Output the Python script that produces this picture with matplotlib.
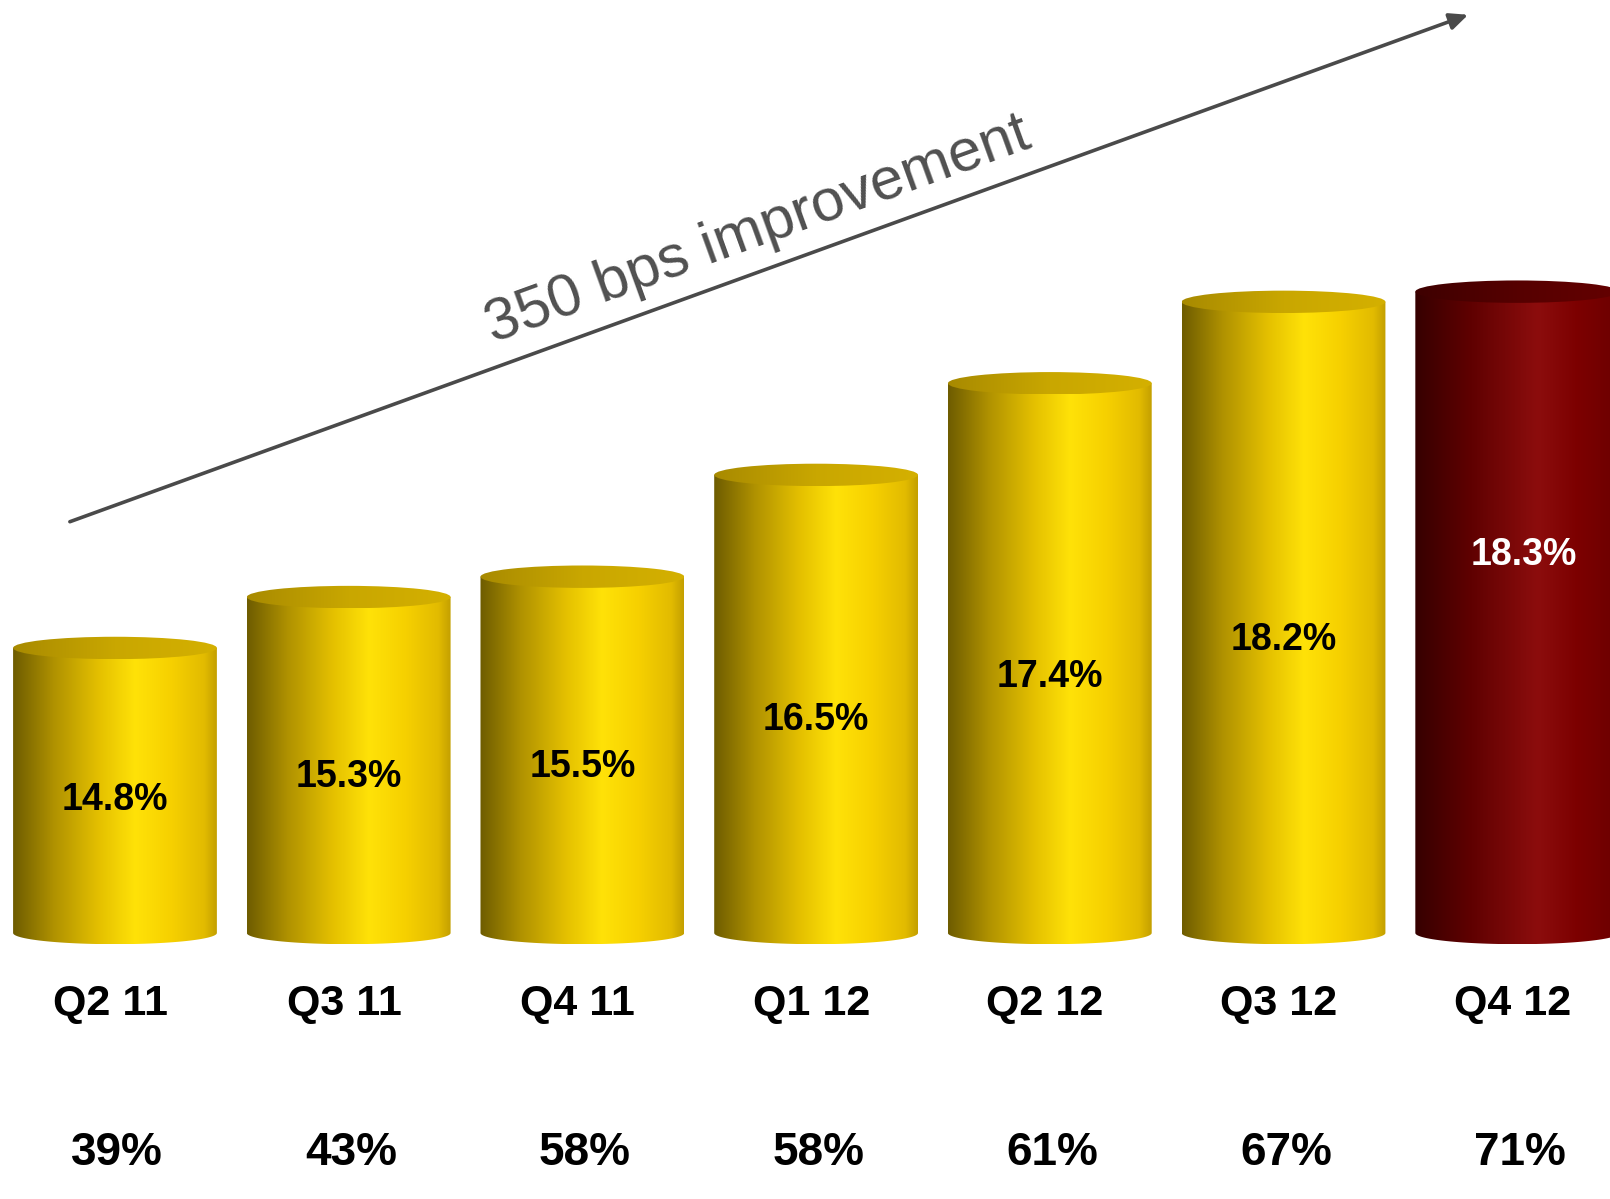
import numpy as np
import matplotlib.pyplot as plt
from matplotlib.colors import LinearSegmentedColormap
from matplotlib.patches import Ellipse, PathPatch
from matplotlib.path import Path

quarters = ["Q2 11", "Q3 11", "Q4 11", "Q1 12", "Q2 12", "Q3 12", "Q4 12"]
margin = [14.8, 15.3, 15.5, 16.5, 17.4, 18.2, 18.3]
share = ["39%", "43%", "58%", "58%", "61%", "67%", "71%"]
improvement = "350 bps improvement"

BASE = 12.0
WIDTH = 0.872
CAP = 0.11

gold_body = LinearSegmentedColormap.from_list("gold_body", [
    (0.0, "#6e5c00"), (0.2, "#b09200"), (0.42, "#e4c000"),
    (0.6, "#ffe208"), (0.78, "#f6d000"), (0.94, "#e2bb00"), (1.0, "#c4a000")])
gold_top = LinearSegmentedColormap.from_list("gold_top", [
    (0.0, "#a88a00"), (0.5, "#c9a700"), (1.0, "#d4b000")])
red_body = LinearSegmentedColormap.from_list("red_body", [
    (0.0, "#360000"), (0.25, "#5c0000"), (0.6, "#8c0d0d"),
    (0.8, "#7c0000"), (1.0, "#6c0000")])
red_top = LinearSegmentedColormap.from_list("red_top", [
    (0.0, "#3e0000"), (0.5, "#560000"), (1.0, "#640000")])

fig = plt.figure(figsize=(16.1, 11.99), dpi=100)
ax = fig.add_axes([0, 0, 1, 1])
ax.set_xlim(-0.492, 6.397)
ax.set_ylim(9.387, 21.165)
ax.axis("off")

grad = np.linspace(0, 1, 256).reshape(1, -1)


def cylinder(x, top, body_cmap, top_cmap):
    x0, x1 = x - WIDTH / 2, x + WIDTH / 2
    t = np.linspace(np.pi, 2 * np.pi, 60)
    arc_x = x + WIDTH / 2 * np.cos(t)
    arc_y = BASE + CAP * np.sin(t)
    verts = [(x0, top)] + list(zip(arc_x, arc_y)) + [(x1, top), (x0, top)]
    clip = PathPatch(Path(verts, closed=True), transform=ax.transData,
                     facecolor="none", edgecolor="none")
    ax.add_patch(clip)
    im = ax.imshow(grad, cmap=body_cmap, aspect="auto",
                   extent=[x0, x1, BASE - CAP, top], zorder=2)
    im.set_clip_path(clip)

    lid = Ellipse((x, top), WIDTH, 2 * CAP, transform=ax.transData,
                  facecolor="none", edgecolor="none")
    ax.add_patch(lid)
    im2 = ax.imshow(grad, cmap=top_cmap, aspect="auto",
                    extent=[x0, x1, top - CAP, top + CAP], zorder=3)
    im2.set_clip_path(lid)


for i, (q, v, s) in enumerate(zip(quarters, margin, share)):
    last = i == len(quarters) - 1
    if last:
        cylinder(i, v, red_body, red_top)
        ly = BASE + 0.59 * (v - BASE)
        ax.text(i + 0.03, ly, f"{v:.1f}%", ha="center", va="center",
                fontsize=27, fontweight="bold", color="white",
                family="Liberation Sans", zorder=5)
    else:
        cylinder(i, v, gold_body, gold_top)
        ly = BASE + 0.465 * (v - BASE)
        ax.text(i, ly, f"{v:.1f}%", ha="center", va="center",
                fontsize=27, fontweight="bold", color="black",
                family="Liberation Sans", zorder=5)

    ax.text(i - 0.02, 11.30, q, ha="center", va="center", fontsize=31,
            fontweight="bold", color="black",
            family=["Liberation Sans Narrow", "Liberation Sans"])
    ax.text(i + 0.01, 9.84, s, ha="center", va="center", fontsize=33,
            fontweight="bold", color="black", family="Liberation Sans")

# trend arrow across the top of the bars
start = (-0.193, 16.04)
end = (5.79, 21.02)
ax.annotate("", xy=end, xytext=start,
            arrowprops=dict(arrowstyle="-|>,head_length=1.1,head_width=0.5",
                            color="#4a4a4a", lw=2.6, shrinkA=0, shrinkB=0),
            zorder=6)
p0 = ax.transData.transform(start)
p1 = ax.transData.transform(end)
angle = np.degrees(np.arctan2(p1[1] - p0[1], p1[0] - p0[0]))
ax.text(2.75, 18.9, improvement, rotation=angle, rotation_mode="anchor",
        ha="center", va="center", fontsize=43, color="#505050",
        family="Liberation Sans", zorder=6)

fig.savefig("out.png", dpi=100)
